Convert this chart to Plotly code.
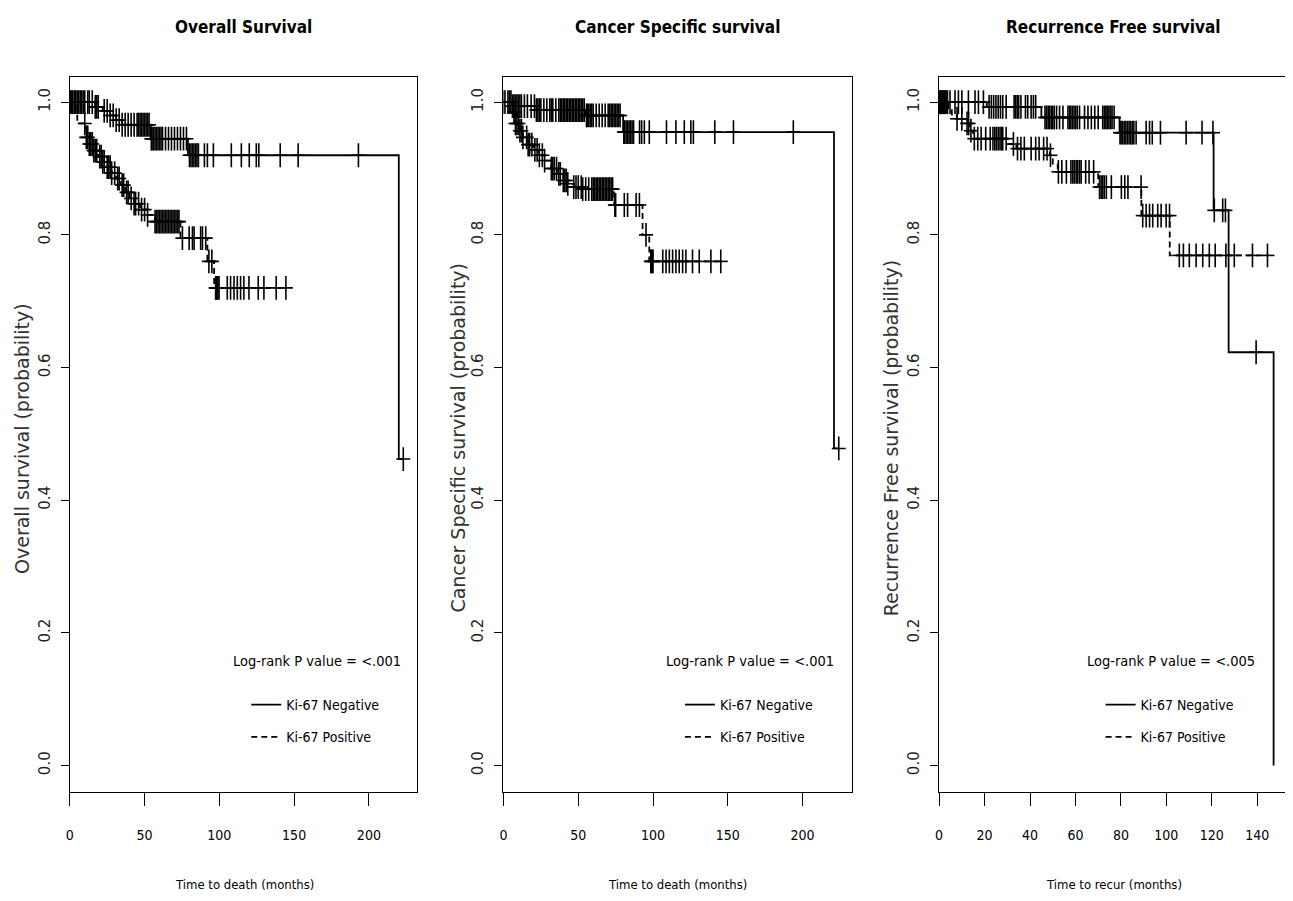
import numpy as np
import plotly.graph_objects as go

# ---------------- data ----------------
panel_titles = ["Overall Survival", "Cancer Specific survival", "Recurrence Free survival"]
y_titles = ["Overall survival (probability)", "Cancer Specific survival (probability)",
            "Recurrence Free survival (probability)"]
x_titles = ["Time to death (months)", "Time to death (months)", "Time to recur (months)"]
pvalue_texts = ["Log-rank P value = <.001", "Log-rank P value = <.001", "Log-rank P value = <.005"]
legend_names = ["Ki-67 Negative", "Ki-67 Positive"]

y_tickvals = [0.0, 0.2, 0.4, 0.6, 0.8, 1.0]
y_ticktext = ["0.0", "0.2", "0.4", "0.6", "0.8", "1.0"]
x_tickvals_death = [0, 50, 100, 150, 200]
x_tickvals_recur = [0, 20, 40, 60, 80, 100, 120, 140]

# Overall survival
os_neg_t = [0, 17, 22, 27, 31, 35, 54, 79, 220, 223]
os_neg_s = [1.0, 0.993, 0.987, 0.980, 0.973, 0.966, 0.945, 0.920, 0.462, 0.462]
os_neg_c = [0.5, 1, 2, 3, 3.5, 4, 5, 6, 7, 8, 9, 10, 12, 13, 15, 17, 18, 19, 23, 25, 27, 29, 31,
            33, 35, 37, 39, 41, 43, 45, 46, 47, 48, 49, 50, 51, 52, 53, 54.5, 55, 56, 57, 58, 59,
            60, 61, 62, 64, 66, 68, 70, 72, 74, 76, 78, 80, 81, 82, 83, 84, 85, 86, 90, 92, 96,
            108, 114.7, 120, 124.7, 126.4, 140.7, 152.7, 193, 223]
os_pos_t = [0, 5, 11, 13, 16, 19, 22, 25, 28, 31, 34, 37, 40, 43, 47, 52, 57, 74, 92, 96.5, 145]
os_pos_s = [1.0, 0.968, 0.947, 0.937, 0.927, 0.918, 0.910, 0.902, 0.893, 0.885, 0.875, 0.864,
            0.855, 0.847, 0.838, 0.830, 0.820, 0.795, 0.760, 0.720, 0.720]
os_pos_c = [10, 11, 12, 13, 14, 15, 16, 17, 18, 20, 21, 22, 23, 25, 26, 27, 28, 30, 32, 33, 35, 36,
            38, 39, 41, 43, 44, 46, 48, 50, 52, 57, 58, 59, 60, 61, 62, 63, 64, 65, 66, 67, 68, 69,
            70, 71, 72, 73, 75.3, 79.8, 82, 83.1, 87.5, 88.7, 90.9, 93, 95, 97.5, 98, 98.5, 99,
            99.8, 105.3, 107.5, 109.8, 112, 114.2, 116.4, 119.8, 126, 129.8, 138, 144.5]

# Cancer specific survival
css_neg_t = [0, 6, 22, 55, 80, 221, 224.2]
css_neg_s = [1.0, 0.994, 0.988, 0.980, 0.955, 0.478, 0.478]
css_neg_c = [0, 1, 3, 4, 5, 6, 7, 8, 9, 10, 11, 12, 14, 16, 18.5, 20.7, 22, 23, 24, 25, 27, 29, 31,
             32, 33, 35, 37, 38, 39, 40, 41, 42, 43, 44, 45, 46, 47, 48, 49, 50, 51, 52, 53, 54,
             55.5, 56, 57, 58, 59, 60, 62, 64, 66, 68, 70, 71, 72, 73, 74, 75, 76, 77, 78, 80.5,
             81, 82, 83, 84, 85, 86, 87, 91, 92.4, 94.2, 97.5, 109, 115.3, 120.9, 125.3, 127,
             141.3, 153.8, 193.8, 224.2]
css_pos_t = [0, 4, 7.5, 11, 13, 16.5, 20, 23, 27.5, 32, 36.5, 40, 43, 47, 53, 74, 93, 97.5, 147]
css_pos_s = [1.0, 0.985, 0.968, 0.957, 0.947, 0.936, 0.928, 0.920, 0.912, 0.900, 0.892, 0.882,
             0.877, 0.872, 0.869, 0.845, 0.800, 0.760, 0.760]
css_pos_c = [7, 8, 9, 10, 11, 12, 13, 15.5, 16.5, 17.5, 19, 21, 22.5, 24, 26, 27.5, 32, 33, 34,
             35.5, 37, 38, 40, 41, 42, 43, 47, 48.5, 50, 52, 53, 55, 57, 59, 60, 61, 62, 63, 64,
             65, 66, 67, 68, 69, 70, 71, 72, 73, 74.5, 75, 80.8, 83, 88.7, 90.9, 95.3, 98.5, 99,
             99.5, 100, 106.5, 108.7, 110.9, 113.1, 115.3, 117.5, 119.8, 122, 126.4, 130.9,
             138.7, 145.3]

# Recurrence free survival
rfs_neg_t = [0, 21, 45, 79.4, 120.8, 127.4, 147.2]
rfs_neg_s = [1.0, 0.993, 0.977, 0.954, 0.837, 0.623, 0.0]
rfs_neg_c = [0, 0.5, 1, 1.5, 2, 2.5, 3, 3.7, 4.8, 7, 8.5, 10, 12.9, 15.8, 17.3, 19.5, 22, 23, 24,
             25, 26, 27, 28, 29.5, 33, 33.7, 34.4, 35, 36, 38, 39, 40.5, 41.5, 42.5, 46.6, 47.3,
             48, 48.7, 49.4, 50, 50.7, 51.7, 53, 54.5, 56.7, 57.4, 58, 58.7, 59.4, 60.1, 60.8,
             61.8, 64, 65.5, 67, 68.5, 70, 72, 72.7, 73.4, 74, 74.7, 75.4, 76.1, 77, 79.6, 80.1,
             80.8, 81.5, 82.2, 82.9, 83.6, 84.3, 85, 85.7, 86.7, 91.1, 92.6, 93.8, 97.4, 108.7,
             115.7, 120.5, 121.1, 124.8, 126, 139.5]
rfs_pos_t = [0, 4, 5.6, 7.8, 12.2, 13.6, 15, 30, 34, 48.7, 50, 52.2, 70, 89, 101.5, 145]
rfs_pos_s = [1.0, 0.988, 0.980, 0.975, 0.968, 0.957, 0.945, 0.937, 0.930, 0.920, 0.907, 0.895,
             0.872, 0.829, 0.769, 0.769]
rfs_pos_c = [0.5, 1, 2, 3, 7.9, 10, 12.3, 13, 14, 15.5, 17, 18.5, 20.5, 22.5, 23.7, 24.5, 25.2,
             26, 26.8, 27.5, 28, 29.5, 32.7, 34.5, 36, 37.5, 40.5, 42.5, 44, 46, 47.5, 49, 52.5,
             54, 56, 58, 58.8, 59.5, 60.3, 61, 61.8, 62.5, 64.5, 66, 68, 70.6, 71.3, 72, 72.7,
             73.6, 75.8, 80.2, 81.7, 83.1, 88.9, 89.6, 91.1, 92.6, 94, 96.2, 97.7, 99.9, 101.4,
             105.7, 107.5, 110.1, 113.1, 116, 118.9, 121.5, 126.2, 129.9, 137.9, 144.5]

x_ranges = [[0, 232], [0, 233.3], [0, 153.1]]
y_range = [-0.040, 1.038]

panels = [
    dict(neg=(os_neg_t, os_neg_s, os_neg_c), pos=(os_pos_t, os_pos_s, os_pos_c),
         xticks=x_tickvals_death, ptext_x=165),
    dict(neg=(css_neg_t, css_neg_s, css_neg_c), pos=(css_pos_t, css_pos_s, css_pos_c),
         xticks=x_tickvals_death, ptext_x=165),
    dict(neg=(rfs_neg_t, rfs_neg_s, rfs_neg_c), pos=(rfs_pos_t, rfs_pos_s, rfs_pos_c),
         xticks=x_tickvals_recur, ptext_x=102),
]

# ---------------- layout geometry (page pixels; the page body has an 8px margin) ----------------
PAGE_OFF = 8
W, H = 1293 - PAGE_OFF, 901 - 2 * PAGE_OFF


def fx(px):
    return min(1.0, max(0.0, (px - PAGE_OFF) / W))


def fy(py):
    return min(1.0, max(0.0, 1 - (py - PAGE_OFF) / H))


x_domains = [[fx(66), fx(414)], [fx(501), fx(851)], [fx(938), fx(1287)]]
y_domain = [fy(792), fy(77)]
title_cx = [240, 676, 1112]
ytitle_cx = [18, 455, 890]
xtitle_cx = [241, 676, 1113]
legend_x = [243, 678, 1100]

NARROW = "DejaVu Sans Condensed, Liberation Sans Narrow, Arial Narrow, sans-serif"
WIDE = "DejaVu Sans, Verdana, Arial, sans-serif"


def step_value(times, surv, t):
    idx = np.searchsorted(np.asarray(times), t, side="right") - 1
    return np.asarray(surv)[np.clip(idx, 0, len(surv) - 1)]


fig = go.Figure()
layout = dict(width=W, height=H, autosize=False, margin=dict(l=0, r=0, t=0, b=0),
              paper_bgcolor="white", plot_bgcolor="white", showlegend=True,
              annotations=[])

for i, p in enumerate(panels):
    k = "" if i == 0 else str(i + 1)
    xa, ya = "x" + k, "y" + k
    leg = "legend" + k
    for j, (key, dash) in enumerate([("neg", "solid"), ("pos", "6px,4px")]):
        t, s, c = p[key]
        fig.add_trace(go.Scatter(
            x=t, y=s, mode="lines", line=dict(color="black", width=1.8, shape="hv", dash=dash),
            name=legend_names[j], legend=leg, legendgroup=f"{key}{i}",
            xaxis=xa, yaxis=ya, hoverinfo="skip"))
        cy = step_value(t, s, c)
        # censoring "+" marks: tall vertical stroke plus a shorter horizontal stroke
        for sym, size in (("line-ns", 17), ("line-ew", 10)):
            fig.add_trace(go.Scatter(
                x=c, y=cy, mode="markers",
                marker=dict(symbol=sym, size=size, color="black",
                            line=dict(color="black", width=1.6)),
                showlegend=False, xaxis=xa, yaxis=ya, hoverinfo="skip"))

    layout["xaxis" + k] = dict(
        domain=x_domains[i], anchor=ya, range=x_ranges[i], showgrid=False, zeroline=False,
        showline=True, mirror=True, linecolor="black", linewidth=1.3,
        ticks="outside", ticklen=13, tickwidth=1.3, tickcolor="black",
        tickvals=p["xticks"], ticktext=[str(v) for v in p["xticks"]],
        ticklabelstandoff=17,
        tickfont=dict(family=NARROW, size=14, color="black"))
    layout["yaxis" + k] = dict(
        domain=y_domain, anchor=xa, range=y_range, showgrid=False, zeroline=False,
        showline=True, mirror=True, linecolor="black", linewidth=1.3,
        ticks="outside", ticklen=8, tickwidth=1.3, tickcolor="black",
        tickvals=y_tickvals, ticktext=y_ticktext, tickangle=-90,
        ticklabelstandoff=5,
        tickfont=dict(family=WIDE, size=15, color="#222"))
    layout[leg] = dict(
        x=fx(legend_x[i]), xanchor="left", y=fy(689), yanchor="top",
        bgcolor="rgba(0,0,0,0)", borderwidth=0, tracegroupgap=11,
        font=dict(family=NARROW, size=14, color="black"))

    ann = layout["annotations"]
    ann.append(dict(text="<b>" + panel_titles[i] + "</b>", xref="paper", yref="paper",
                    x=fx(title_cx[i]), y=fy(27), xanchor="center", yanchor="middle",
                    showarrow=False, font=dict(family=NARROW, size=17, color="black")))
    ann.append(dict(text=y_titles[i], xref="paper", yref="paper", textangle=-90,
                    x=fx(ytitle_cx[i]), y=fy(438), xanchor="center", yanchor="middle",
                    showarrow=False, font=dict(family=WIDE, size=19, color="#333")))
    ann.append(dict(text=x_titles[i], xref="paper", yref="paper",
                    x=fx(xtitle_cx[i]), y=fy(884), xanchor="center", yanchor="middle",
                    showarrow=False, font=dict(family=NARROW, size=13, color="black")))
    ann.append(dict(text=pvalue_texts[i], xref=xa, yref=ya, x=p["ptext_x"], y=0.158,
                    xanchor="center", yanchor="middle", showarrow=False,
                    font=dict(family=NARROW, size=14.5, color="black")))

fig.update_layout(**layout)
fig.write_html("out.html")
